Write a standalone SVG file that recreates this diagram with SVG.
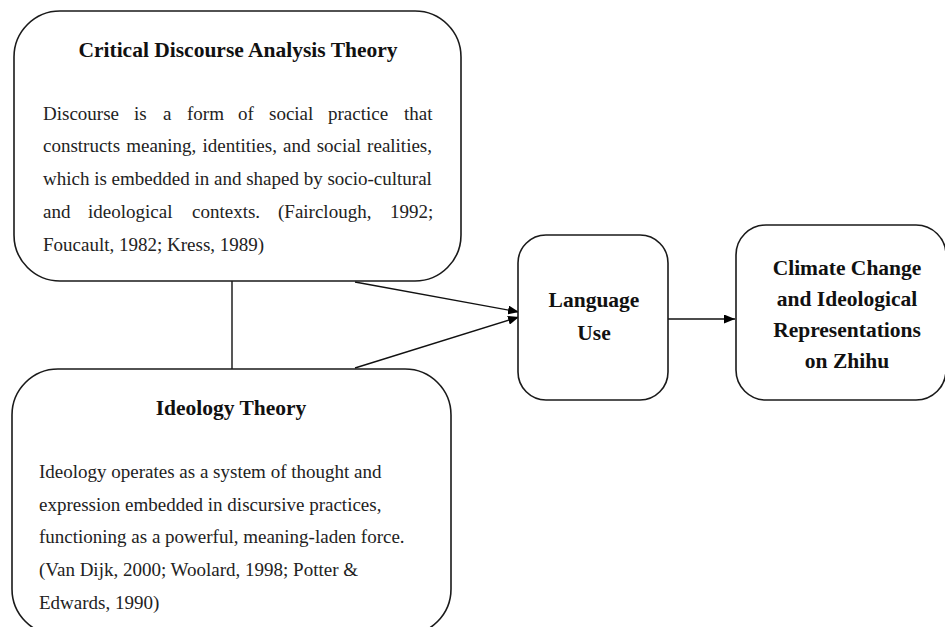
<svg xmlns="http://www.w3.org/2000/svg" width="945" height="627" viewBox="0 0 945 627">
<defs>
<marker id="arr" markerWidth="11" markerHeight="9" refX="11" refY="4.5" orient="auto" markerUnits="userSpaceOnUse">
<path d="M0,0 L11,4.5 L0,9 Z" fill="#000"/>
</marker>
<style>
.box{fill:#fff;stroke:#1a1a1a;stroke-width:1.6}
.title{font-family:"Liberation Serif","Times New Roman",serif;font-weight:bold;font-size:21.5px;fill:#111;text-anchor:middle}
.body{font-family:"Liberation Serif","Times New Roman",serif;font-size:19px;fill:#222}
.con{stroke:#111;stroke-width:1.4;fill:none}
</style>
</defs>
<rect width="945" height="627" fill="#fff"/>
<g id="connectors">
<line class="con" x1="232" y1="281" x2="232" y2="369"/>
<line class="con" x1="355" y1="282" x2="519" y2="312" marker-end="url(#arr)"/>
<line class="con" x1="355" y1="368" x2="519" y2="317" marker-end="url(#arr)"/>
<line class="con" x1="668" y1="319" x2="735" y2="319" marker-end="url(#arr)"/>
</g>
<g id="cda">
<rect class="box" x="14" y="11" width="447" height="270" rx="46" ry="46"/>
<text class="title" x="238" y="57">Critical Discourse Analysis Theory</text>
<text class="body" y="120"><tspan x="43">Discourse</tspan><tspan x="134">is</tspan><tspan x="163">a</tspan><tspan x="187">form</tspan><tspan x="238">of</tspan><tspan x="269">social</tspan><tspan x="328">practice</tspan><tspan x="404">that</tspan></text>
<text class="body" x="43" y="152" word-spacing="1.4">constructs meaning, identities, and social realities,</text>
<text class="body" x="43" y="185">which is embedded in and shaped by socio-cultural</text>
<text class="body" y="218"><tspan x="43">and</tspan><tspan x="88">ideological</tspan><tspan x="192">contexts.</tspan><tspan x="278">(Fairclough,</tspan><tspan x="390">1992;</tspan></text>
<text class="body" x="43" y="251">Foucault, 1982; Kress, 1989)</text>
</g>
<g id="ideology">
<rect class="box" x="12" y="369" width="439" height="266" rx="46" ry="46"/>
<text class="title" x="231" y="415">Ideology Theory</text>
<text class="body" x="39" y="478">Ideology operates as a system of thought and</text>
<text class="body" x="39" y="511">expression embedded in discursive practices,</text>
<text class="body" x="39" y="543">functioning as a powerful, meaning-laden force.</text>
<text class="body" x="39" y="576">(Van Dijk, 2000; Woolard, 1998; Potter &amp;</text>
<text class="body" x="39" y="609">Edwards, 1990)</text>
</g>
<g id="language">
<rect class="box" x="518" y="235" width="150" height="165" rx="28" ry="28"/>
<text class="title" x="594" y="307">Language</text>
<text class="title" x="594" y="340">Use</text>
</g>
<g id="climate">
<rect class="box" x="736" y="225" width="210" height="175" rx="30" ry="30"/>
<text class="title" x="847" y="275">Climate Change</text>
<text class="title" x="847" y="306">and Ideological</text>
<text class="title" x="847" y="337">Representations</text>
<text class="title" x="847" y="368">on Zhihu</text>
</g>
</svg>
